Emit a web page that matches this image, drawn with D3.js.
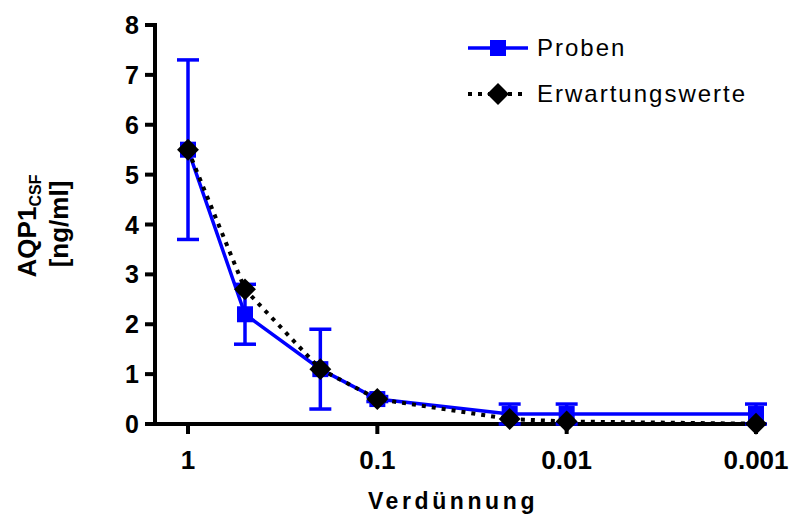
<!DOCTYPE html>
<html>
<head>
<meta charset="utf-8">
<script src="https://cdn.jsdelivr.net/npm/d3@7"></script>
<style>
  body { margin: 0; background: #fff; }
  svg { font-family: "Liberation Sans", Arial, sans-serif; }
</style>
</head>
<body>
<svg id="chart" width="793" height="517"></svg>
<script>
// dilution steps (x) and measured / expected concentrations
const dilutions = [1, 0.5, 0.2, 0.1, 0.02, 0.01, 0.001];
const proben = [5.5, 2.2, 1.1, 0.5, 0.2, 0.2, 0.2];
const probenErr = [1.8, 0.6, 0.8, 0.05, 0.2, 0.2, 0.2];
const erwartung = [5.5, 2.7, 1.1, 0.5, 0.1, 0.05, 0.005];
const xTicks = [1, 0.1, 0.01, 0.001];
const xTickLabels = ["1", "0.1", "0.01", "0.001"];
const yTicks = [0, 1, 2, 3, 4, 5, 6, 7, 8];

const blue = "#0000ff";
const svg = d3.select("#chart");

let x = d3.scaleLog().domain([1, 0.001]).range([188, 756]);
let y = d3.scaleLinear().domain([0, 8]).range([424, 25]);

// axes
let axes = svg.append("g");
axes.append("line")
  .attr("x1", 155).attr("x2", 155)
  .attr("y1", y(8) - 2).attr("y2", y(0) + 2)
  .attr("stroke", "#000").attr("stroke-width", 4);
axes.append("line")
  .attr("x1", 153).attr("x2", 766)
  .attr("y1", y(0)).attr("y2", y(0))
  .attr("stroke", "#000").attr("stroke-width", 4);

yTicks.forEach(t => {
  axes.append("line")
    .attr("x1", 145).attr("x2", 155)
    .attr("y1", y(t)).attr("y2", y(t))
    .attr("stroke", "#000").attr("stroke-width", 4);
  axes.append("text")
    .attr("x", 139).attr("y", y(t) + 9)
    .attr("text-anchor", "end")
    .style("font-size", "25px").style("font-weight", "bold")
    .text(t);
});

xTicks.forEach((t, i) => {
  axes.append("line")
    .attr("x1", x(t)).attr("x2", x(t))
    .attr("y1", y(0)).attr("y2", y(0) + 10)
    .attr("stroke", "#000").attr("stroke-width", 4);
  axes.append("text")
    .attr("x", x(t)).attr("y", 469)
    .attr("text-anchor", "middle")
    .style("font-size", "26px").style("font-weight", "bold")
    .text(xTickLabels[i]);
});

// axis titles
svg.append("text")
  .attr("x", 453).attr("y", 509)
  .attr("text-anchor", "middle")
  .style("font-size", "23px").style("font-weight", "bold")
  .style("letter-spacing", "3.6px")
  .text("Verdünnung");

let ylab = svg.append("text")
  .attr("transform", "translate(36,226) rotate(-90)")
  .attr("text-anchor", "middle")
  .style("font-size", "26px").style("font-weight", "bold");
ylab.append("tspan").text("AQP1");
ylab.append("tspan").attr("dy", 5).style("font-size", "16px").text("CSF");

svg.append("text")
  .attr("transform", "translate(68,224) rotate(-90)")
  .attr("text-anchor", "middle")
  .style("font-size", "26px").style("font-weight", "bold")
  .text("[ng/ml]");

// Proben series
let pts = dilutions.map((d, i) => ({ d: d, v: proben[i], e: probenErr[i], ex: erwartung[i] }));

let line = d3.line().x(p => x(p.d)).y(p => y(p.v));
svg.append("path")
  .datum(pts)
  .attr("d", line)
  .attr("fill", "none")
  .attr("stroke", blue)
  .attr("stroke-width", 3.5);

let err = svg.append("g").attr("stroke", blue).attr("stroke-width", 3.5);
pts.forEach(p => {
  err.append("line")
    .attr("x1", x(p.d)).attr("x2", x(p.d))
    .attr("y1", y(p.v - p.e)).attr("y2", y(p.v + p.e));
  [p.v - p.e, p.v + p.e].forEach(v => {
    err.append("line")
      .attr("x1", x(p.d) - 11).attr("x2", x(p.d) + 11)
      .attr("y1", y(v)).attr("y2", y(v));
  });
});

svg.append("g").selectAll("rect")
  .data(pts)
  .enter()
  .append("rect")
  .attr("x", p => x(p.d) - 8)
  .attr("y", p => y(p.v) - 8)
  .attr("width", 16).attr("height", 16)
  .attr("fill", blue);

// Erwartungswerte series
let line2 = d3.line().x(p => x(p.d)).y(p => y(p.ex));
svg.append("path")
  .datum(pts)
  .attr("d", line2)
  .attr("fill", "none")
  .attr("stroke", "#000")
  .attr("stroke-width", 4)
  .attr("stroke-dasharray", "4,6");

let diamond = d3.symbol().type(d3.symbolSquare).size(240);
svg.append("g").selectAll("path")
  .data(pts)
  .enter()
  .append("path")
  .attr("transform", p => `translate(${x(p.d)},${y(p.ex)}) rotate(45)`)
  .attr("d", diamond)
  .attr("fill", "#000");

// legend
let leg = svg.append("g");
leg.append("line")
  .attr("x1", 468).attr("x2", 528).attr("y1", 48).attr("y2", 48)
  .attr("stroke", blue).attr("stroke-width", 3.5);
leg.append("rect")
  .attr("x", 490).attr("y", 40).attr("width", 16).attr("height", 16)
  .attr("fill", blue);
leg.append("text")
  .attr("x", 537).attr("y", 56)
  .style("font-size", "24px").style("letter-spacing", "2px")
  .text("Proben");

leg.append("line")
  .attr("x1", 468).attr("x2", 528).attr("y1", 94).attr("y2", 94)
  .attr("stroke", "#000").attr("stroke-width", 4)
  .attr("stroke-dasharray", "4,6");
leg.append("path")
  .attr("transform", "translate(498,94) rotate(45)")
  .attr("d", diamond)
  .attr("fill", "#000");
leg.append("text")
  .attr("x", 537).attr("y", 102)
  .style("font-size", "24px").style("letter-spacing", "2px")
  .text("Erwartungswerte");
</script>
</body>
</html>
